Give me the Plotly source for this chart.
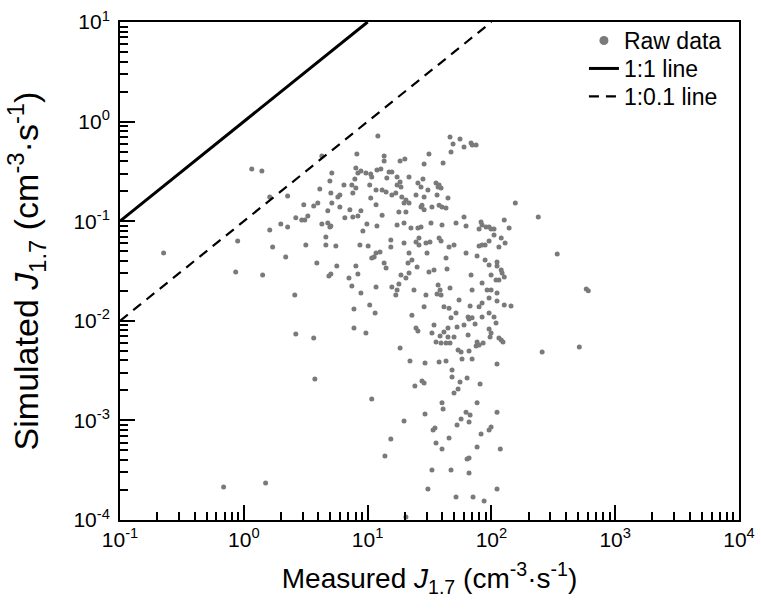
import plotly.graph_objects as go

# Measured J1.7 (cm^-3 s^-1) and simulated J1.7 (cm^-3 s^-1)
measured = [
    12.1, 4.27, 8.19, 1.16, 1.40, 5.14, 8.04, 8.83, 8.35, 9.69, 10.6, 10.8, 11.9, 4.96, 7.89,
    6.44, 7.46, 8.04, 10.4, 4.11, 5.05, 5.97, 5.75, 7.60, 11.7, 10.6, 2.26, 1.62, 5.14, 4.77,
    3.96, 3.67, 3.05, 5.97, 7.19, 8.83, 8.35, 7.60, 11.7, 3.29, 3.11, 2.94, 2.63, 6.55, 4.27,
    4.77, 4.96, 5.05, 1.99, 2.26, 1.62, 9.87, 11.9, 9.16, 4.60, 0.892, 1.71, 3.17, 4.60, 5.54,
    8.67, 10.1, 0.225, 2.18, 3.89, 5.64, 8.04, 11.7, 11.3, 10.8, 0.86, 1.42, 5.05, 4.87, 7.07,
    8.35, 7.46, 11.7, 2.58, 8.83, 10.4, 7.76, 11.5, 2.63, 3.67, 7.76, 9.69, 3.75, 10.8, 1.50,
    0.687,
    12.8, 13.6, 13.6, 14.9, 15.7, 14.3, 17.3, 21.6, 28.0, 18.3, 20.0, 28.6, 31.3, 40.7, 46.3,
    55.8, 49.0, 60.1, 68.5, 70.0, 75.2, 47.2,
    13.1, 14.1, 15.7, 16.9, 18.3, 17.3, 18.6, 18.9, 20.4, 19.7, 21.6, 25.5, 27.0, 24.6, 28.6,
    30.7, 35.7, 37.8, 39.2, 37.1, 36.4, 44.6, 27.0, 28.6, 27.5, 33.1, 37.8, 39.9, 43.0, 13.1,
    17.9, 20.4, 17.3, 19.7, 22.4, 25.5, 27.0, 32.5, 39.9, 51.8, 60.1, 62.4, 82.5, 84.1, 90.6,
    95.8, 99.4, 105, 79.5, 127, 139, 156, 15.4, 15.4, 19.7, 24.6, 26.0, 26.0, 29.6, 31.9,
    37.8, 39.2, 45.5, 49.9, 95.8, 105, 120, 129, 79.5, 84.1, 88.9, 115, 12.6, 21.6, 22.8,
    21.2, 30.2, 43.0, 62.4, 76.6, 88.9, 95.8, 111, 111, 13.6, 14.1, 18.6, 20.4, 21.6, 25.1,
    31.3, 34.4, 43.8, 68.5, 99.4, 120, 122, 127, 15.7, 17.3, 17.9, 23.7, 37.1, 38.5, 36.4,
    39.2, 29.6, 46.3, 54.8, 69.8, 84.1, 92.3, 99.4, 109, 115, 111, 16.9, 28.6, 41.4, 45.5,
    79.5, 84.1, 95.8, 111, 127, 144, 22.8, 34.4, 47.2, 51.8, 64.8, 69.8, 66.0, 84.1, 95.8,
    105, 109, 60.1, 52.8, 24.6,
    18.3, 25.5, 33.1, 38.5, 41.4, 44.6, 73.8, 95.8, 99.4, 35.7, 39.2, 43.0, 44.6, 46.3, 49.9,
    64.8, 76.6, 75.2, 79.5, 85.7, 97.6, 115, 120, 124, 53.8, 56.9, 66.0, 22.0, 29.1, 37.8,
    43.0, 57.9, 69.8, 111, 48.1, 48.1, 63.6, 55.8, 24.1, 27.5, 28.6, 53.8, 81.0, 49.9, 39.9,
    40.7, 76.6, 29.1, 62.4, 67.3, 66.0, 56.9, 111, 19.7, 35.0, 33.8, 52.8, 99.4, 95.8, 82.5,
    45.5, 15.4, 35.7, 39.9, 76.6, 118, 13.8, 63.6, 66.0, 33.1, 47.2, 66.0, 30.7, 111, 51.8,
    71.1, 87.3, 20.4, 67.3,
    239, 340, 584, 606, 257, 513,
]
simulated = [
    0.717, 0.452, 0.473, 0.334, 0.319, 0.305, 0.342, 0.319, 0.305, 0.305, 0.298, 0.278, 0.327, 0.253, 0.265,
    0.231, 0.231, 0.216, 0.231, 0.211, 0.192, 0.183, 0.175, 0.192, 0.206, 0.171, 0.179, 0.175, 0.152, 0.127,
    0.152, 0.142, 0.146, 0.139, 0.130, 0.127, 0.113, 0.110, 0.146, 0.113, 0.103, 0.103, 0.108, 0.108, 0.0937,
    0.0959, 0.0875, 0.0895, 0.0937, 0.0875, 0.0816, 0.0937, 0.0895, 0.0797, 0.0694, 0.0633, 0.0551, 0.0577, 0.0577, 0.0563,
    0.0577, 0.0563, 0.0480, 0.0437, 0.0380, 0.0355, 0.0355, 0.0480, 0.0437, 0.0427, 0.0309, 0.0288, 0.0295, 0.0282, 0.0269,
    0.0295, 0.0224, 0.0219, 0.0182, 0.0190, 0.0144, 0.0131, 0.0120, 0.00737, 0.00672, 0.00847, 0.00754, 0.00260, 0.00164, 0.000235,
    0.000214,
    0.334, 0.452, 0.402, 0.312, 0.312, 0.272, 0.278, 0.278, 0.265, 0.402, 0.421, 0.375, 0.473, 0.384, 0.700,
    0.669, 0.596, 0.556, 0.610, 0.582, 0.582, 0.495,
    0.206, 0.196, 0.183, 0.192, 0.247, 0.231, 0.220, 0.175, 0.163, 0.152, 0.152, 0.242, 0.220, 0.183, 0.175,
    0.206, 0.242, 0.231, 0.216, 0.220, 0.183, 0.171, 0.139, 0.130, 0.145, 0.139, 0.145, 0.139, 0.136, 0.115,
    0.124, 0.124, 0.0916, 0.0959, 0.0855, 0.0855, 0.0875, 0.0959, 0.0916, 0.0959, 0.110, 0.0895, 0.0982, 0.0916, 0.0875,
    0.0875, 0.0835, 0.0835, 0.0835, 0.103, 0.0855, 0.152, 0.0648, 0.0551, 0.0604, 0.0618, 0.0678, 0.0577, 0.0604, 0.0618,
    0.0678, 0.0633, 0.0551, 0.0577, 0.0633, 0.0727, 0.0678, 0.0604, 0.0564, 0.0577, 0.0577, 0.0551, 0.0491, 0.0479, 0.0408,
    0.0380, 0.0479, 0.0427, 0.0479, 0.0447, 0.0408, 0.0363, 0.0389, 0.0355, 0.0380, 0.0339, 0.0288, 0.0269, 0.0302, 0.0347,
    0.0309, 0.0324, 0.0331, 0.0288, 0.0288, 0.0324, 0.0302, 0.0275, 0.0218, 0.0204, 0.0234, 0.0204, 0.0229, 0.0204, 0.0186,
    0.0182, 0.0182, 0.0213, 0.0162, 0.0204, 0.0240, 0.0204, 0.0204, 0.0257, 0.0257, 0.0190, 0.0182, 0.0138, 0.0138, 0.0134,
    0.0138, 0.0151, 0.0169, 0.0158, 0.0144, 0.0141, 0.0114, 0.00908, 0.0107, 0.0120, 0.0109, 0.0107, 0.0104, 0.0109, 0.0120,
    0.0109, 0.00950, 0.00908, 0.00867, 0.00847,
    0.00533, 0.00790, 0.00754, 0.00704, 0.00772, 0.00847, 0.00929, 0.00827, 0.00754, 0.00612, 0.00599, 0.00599, 0.00688, 0.00599, 0.00688,
    0.00720, 0.00612, 0.00558, 0.00571, 0.00599, 0.00688, 0.00672, 0.00642, 0.00612, 0.00509, 0.00486, 0.00497, 0.00395, 0.00377, 0.00386,
    0.00395, 0.00414, 0.00414, 0.00368, 0.00321, 0.00273, 0.00267, 0.00243, 0.00222, 0.00249, 0.00237, 0.00207, 0.00232, 0.00188, 0.00150,
    0.00130, 0.00150, 0.00116, 0.00121, 0.00113, 0.000964, 0.00103, 0.00121, 0.000986, 0.000839, 0.000801, 0.000899, 0.000858, 0.000801, 0.000730,
    0.000666, 0.000651, 0.000593, 0.000516, 0.000541, 0.000516, 0.000439, 0.000410, 0.000419, 0.000318, 0.000318, 0.000296, 0.000205, 0.000205, 0.000170,
    0.000170, 0.000155, 0.000107, 0.0141,
    0.110, 0.0468, 0.0209, 0.0200, 0.00486, 0.00546,
]

# Reference lines
line_1to1_x = [0.1, 10]
line_1to1_y = [0.1, 10]
line_1to01_x = [0.1, 100]
line_1to01_y = [0.01, 10]

x_tickvals = [0.1, 1, 10, 100, 1000, 10000]
x_ticktext = ["10<sup>-1</sup>", "10<sup>0</sup>", "10<sup>1</sup>", "10<sup>2</sup>", "10<sup>3</sup>", "10<sup>4</sup>"]
y_tickvals = [0.0001, 0.001, 0.01, 0.1, 1, 10]
y_ticktext = ["10<sup>-4</sup>", "10<sup>-3</sup>", "10<sup>-2</sup>", "10<sup>-1</sup>", "10<sup>0</sup>", "10<sup>1</sup>"]

x_minor = [m * d for d in [0.1, 1, 10, 100, 1000] for m in range(2, 10)]
y_minor = [m * d for d in [0.0001, 0.001, 0.01, 0.1, 1] for m in range(2, 10)]

FONT = "Liberation Sans, Arial, sans-serif"
GRAY = "#7a7a7a"

fig = go.Figure()
fig.add_trace(go.Scatter(
    x=measured, y=simulated, mode="markers", showlegend=False,
    marker=dict(color=GRAY, size=5), name="Raw data"))
fig.add_trace(go.Scatter(
    x=[None], y=[None], mode="markers", name="Raw data", legend="legend",
    marker=dict(color=GRAY, size=9)))
fig.add_trace(go.Scatter(
    x=line_1to1_x, y=line_1to1_y, mode="lines", name="1:1 line", legend="legend2",
    line=dict(color="black", width=3)))
fig.add_trace(go.Scatter(
    x=line_1to01_x, y=line_1to01_y, mode="lines", name="1:0.1 line", legend="legend3",
    line=dict(color="black", width=2.2, dash="10px,7px")))

axis_common = dict(
    type="log", showgrid=False, zeroline=False, automargin=False,
    showline=True, linecolor="black", linewidth=2, mirror=True,
    ticks="inside", ticklen=15, tickwidth=2, tickcolor="black",
    tickfont=dict(family=FONT, size=21, color="black"),
    tickmode="array", ticklabeloverflow="allow",
)

fig.update_xaxes(
    **axis_common, range=[-1, 4],
    tickvals=x_tickvals, ticktext=x_ticktext,
    minor=dict(tickmode="array", tickvals=x_minor, ticks="inside", ticklen=8,
               tickwidth=2, tickcolor="black"),
    title=dict(text="Measured <i>J</i><sub>1.7</sub> (cm<sup>-3</sup>·s<sup>-1</sup>)",
               font=dict(family=FONT, size=28, color="black"), standoff=18),
)
fig.update_yaxes(
    **axis_common, range=[-4, 1], ticklabelstandoff=4,
    tickvals=y_tickvals, ticktext=y_ticktext,
    minor=dict(tickmode="array", tickvals=y_minor, ticks="inside", ticklen=8,
               tickwidth=2, tickcolor="black"),
    title=dict(text="Simulated <i>J</i><sub>1.7</sub> (cm<sup>-3</sup>·s<sup>-1</sup>)",
               font=dict(family=FONT, size=34, color="black"), standoff=24),
)

legend_style = dict(xanchor="left", yanchor="top", bgcolor="rgba(0,0,0,0)", borderwidth=0,
                    font=dict(family=FONT, size=23, color="black"))
fig.update_layout(
    width=761, height=609,
    margin=dict(l=120, r=22, t=22, b=89, autoexpand=False),
    paper_bgcolor="white", plot_bgcolor="white",
    font=dict(family=FONT, color="black"),
    legend=dict(x=0.7495, y=1.006, **legend_style),
    legend2=dict(x=0.7495, y=0.9498, **legend_style),
    legend3=dict(x=0.7495, y=0.8936, **legend_style),
)

fig.write_html(
    "out.html",
    config={"displayModeBar": False},
    post_script="document.body.style.margin='0';document.body.style.overflow='hidden';",
)
